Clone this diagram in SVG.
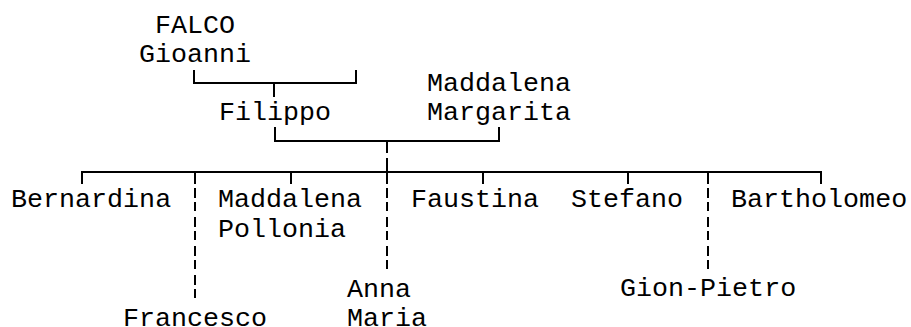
<svg xmlns="http://www.w3.org/2000/svg" width="911" height="327" viewBox="0 0 911 327">
<style>
  text { font-family: "Liberation Mono", "DejaVu Sans Mono", monospace; font-size: 26.7px; fill: #000; }
  .ln { stroke: #000; stroke-width: 2; fill: none; }
  .dash { stroke: #000; stroke-width: 2; fill: none; stroke-dasharray: 10 4 9 6; }
</style>
<rect width="911" height="327" fill="#fff"/>
<g id="connectors">
  <path class="ln" d="M194,70 V83 H356 V70 M274,83 V97"/>
  <path class="ln" d="M275,127 V141 H499 V127 M387,141 V153 M387,158 V184"/>
  <path class="ln" d="M82,184 V172 H821 V184 M195,172 V184 M291,172 V184 M483,172 V184 M628,172 V184 M708,172 V184"/>
  <path class="dash" d="M195,188 V298"/>
  <path class="dash" d="M387,188 V270"/>
  <path class="dash" d="M708,188 V270"/>
</g>
<g id="falco"><text x="155" y="33">FALCO</text><text x="139" y="62">Gioanni</text></g>
<g id="filippo"><text x="219" y="120">Filippo</text></g>
<g id="maddalena-margarita"><text x="427" y="91">Maddalena</text><text x="427" y="120">Margarita</text></g>
<g id="bernardina"><text x="11" y="207">Bernardina</text></g>
<g id="maddalena-pollonia"><text x="218" y="207">Maddalena</text><text x="218" y="237">Pollonia</text></g>
<g id="faustina"><text x="411" y="207">Faustina</text></g>
<g id="stefano"><text x="571" y="207">Stefano</text></g>
<g id="bartholomeo"><text x="731" y="207">Bartholomeo</text></g>
<g id="francesco"><text x="123" y="326">Francesco</text></g>
<g id="anna-maria"><text x="347" y="297">Anna</text><text x="347" y="326">Maria</text></g>
<g id="gion-pietro"><text x="620" y="296">Gion-Pietro</text></g>
</svg>
